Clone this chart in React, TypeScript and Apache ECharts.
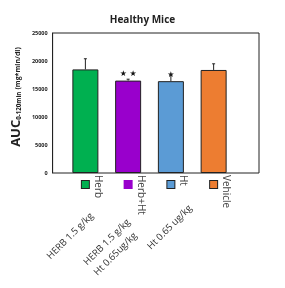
import React, { useEffect, useRef } from "react";
import * as echarts from "echarts";

const categories = ["Herb", "Herb+Ht", "Ht", "Vehicle"];
const values = [18500, 16500, 16400, 18400];
const errors = [1900, 250, 1100, 1100];
const stars = ["", "★ ★", "★", ""];
const doseLine1 = ["HERB 1.5 g/kg", "HERB 1.5 g/kg", "Ht 0.65 ug/kg", ""];
const doseLine2 = ["", "Ht 0.65ug/kg", "", ""];
const colors = ["#00B050", "#9900CC", "#5B9BD5", "#ED7D31"];
const yTicks = { min: 0, max: 25000, interval: 5000 };

const FONT = "'Open Sans', 'DejaVu Sans', sans-serif";

export default function App() {
  const ref = useRef<HTMLDivElement>(null);
  useEffect(() => {
    if (!ref.current) return;
    const chart = echarts.init(ref.current, undefined, { renderer: "svg" });

    const squareRich: any = {};
    colors.forEach((c, i) => {
      squareRich["k" + i] = {
        width: 7,
        height: 7,
        backgroundColor: c,
        borderColor: i === 1 ? c : "#222",
        borderWidth: 1,
      };
    });

    // one axis per label line, so each line can sit where the reference puts it
    const doseAxis = (lines: string[], k: number, margin: number, pad: number[]) => ({
      gridIndex: 1,
      type: "category",
      data: categories,
      position: "bottom",
      offset: 0,
      axisLine: { show: false },
      axisTick: { show: false },
      axisLabel: {
        interval: 0,
        rotate: 45,
        margin,
        formatter: (_v: string, idx: number) => (idx === k && lines[k] ? `{d|${lines[k]}}` : ""),
        rich: {
          d: { fontSize: 9.5, color: "#333", fontFamily: FONT, padding: pad },
        },
      },
    });

    chart.setOption({
      animation: false,
      title: {
        text: "Healthy Mice",
        left: "center",
        top: 9,
        textStyle: { fontSize: 10, fontWeight: "bold", color: "#222", fontFamily: FONT },
      },
      grid: [
        { left: 40, right: 26, top: 33, bottom: 115, show: true, borderColor: "#222", borderWidth: 1, backgroundColor: "transparent" },
        { left: 64, right: 50, top: 33, bottom: 115 },
      ],
      xAxis: [
        { gridIndex: 0, type: "value", min: 0, max: 1, show: false },
        {
          gridIndex: 1,
          type: "category",
          data: categories,
          position: "bottom",
          offset: 0,
          axisLine: { show: false },
          axisTick: { show: false },
          axisLabel: {
            interval: 0,
            margin: 8,
            formatter: (_v: string, i: number) => `{k${i}|}`,
            rich: squareRich,
          },
        },
        {
          gridIndex: 1,
          type: "category",
          data: categories,
          position: "bottom",
          offset: 0,
          axisLine: { show: false },
          axisTick: { show: false },
          axisLabel: {
            interval: 0,
            rotate: -90,
            margin: 2,
            formatter: (v: string) => `{n|${v}}`,
            rich: {
              n: { fontSize: 10, color: "#444", fontFamily: FONT, padding: [0, 0, 27, 0] },
            },
          },
        },
        doseAxis(doseLine1, 0, 35, [17, 0, 0, 0]),
        doseAxis(doseLine1, 1, 47, [0, 0, 0, 0]),
        doseAxis(doseLine2, 1, 54, [19, 0, 0, 0]),
        doseAxis(doseLine1, 2, 14, [54, 0, 0, 0]),
      ],
      yAxis: [
        {
          gridIndex: 0,
          type: "value",
          min: yTicks.min,
          max: yTicks.max,
          interval: yTicks.interval,
          axisLine: { show: true, lineStyle: { color: "#222" } },
          axisTick: { show: false },
          splitLine: { show: false },
          axisLabel: {
            fontSize: 5.5,
            fontWeight: "bold",
            color: "#222",
            margin: 5,
            fontFamily: FONT,
            formatter: (v: number) => String(v),
          },
          name: "{a|AUC}{b|0-120min}{c|(mg*min/dl)}",
          nameLocation: "middle",
          nameRotate: 90,
          nameGap: 31,
          nameTextStyle: {
            padding: [0, 0, 0, 12],
            rich: {
              a: { fontSize: 13, fontWeight: "bold", color: "#222", fontFamily: FONT, verticalAlign: "bottom", lineHeight: 16 },
              b: { fontSize: 6.2, fontWeight: "bold", color: "#222", fontFamily: FONT, verticalAlign: "bottom", lineHeight: 14, padding: [0, 2, 0, 0] },
              c: { fontSize: 7, fontWeight: "bold", color: "#222", fontFamily: FONT, verticalAlign: "bottom", lineHeight: 15 },
            },
          },
        },
        { gridIndex: 1, type: "value", min: yTicks.min, max: yTicks.max, interval: yTicks.interval, show: false },
      ],
      series: [
        {
          type: "bar",
          xAxisIndex: 1,
          yAxisIndex: 1,
          barWidth: 26,
          data: values.map((v, i) => ({ value: v, itemStyle: { color: colors[i] } })),
          itemStyle: { borderColor: "#222", borderWidth: 1 },
          label: {
            show: true,
            position: "top",
            distance: 3,
            fontSize: 8,
            color: "#111",
            fontFamily: "'DejaVu Sans', sans-serif",
            formatter: (p: any) => stars[p.dataIndex],
          },
          z: 2,
        },
        {
          type: "custom",
          xAxisIndex: 1,
          yAxisIndex: 1,
          z: 3,
          data: values.map((v, i) => [i, v, errors[i]]),
          encode: { x: 0, y: 1 },
          renderItem: (_params: any, api: any) => {
            const x = api.value(0);
            const v = api.value(1);
            const e = api.value(2);
            const p0 = api.coord([x, v]);
            const p1 = api.coord([x, v + e]);
            const style = { stroke: "#222", lineWidth: 1 };
            return {
              type: "group",
              children: [
                { type: "line", shape: { x1: p0[0], y1: p0[1], x2: p1[0], y2: p1[1] }, style },
                { type: "line", shape: { x1: p1[0] - 1.5, y1: p1[1], x2: p1[0] + 1.5, y2: p1[1] }, style },
              ],
            };
          },
        },
      ],
    });
    return () => chart.dispose();
  }, []);
  return <div ref={ref} style={{ position: "fixed", left: 0, top: 0, width: 285, height: 288 }} />;
}
